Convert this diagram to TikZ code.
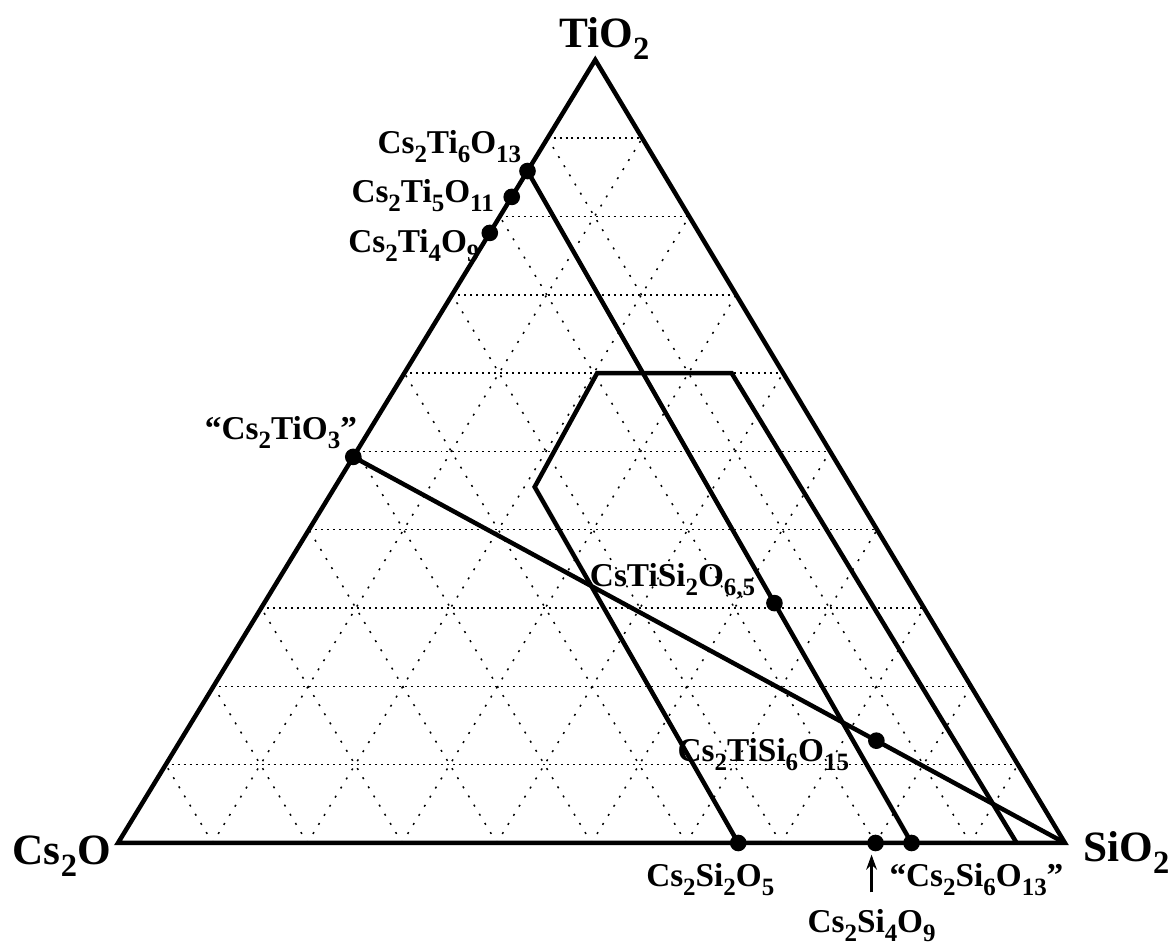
\documentclass[tikz,border=0pt]{standalone}
\usepackage{fontspec}
\setmainfont{Liberation Serif}
\usetikzlibrary{calc, arrows.meta}
\newcommand{\dn}[1]{\raisebox{-0.27em}{\scalebox{0.75}{#1}}}
\tikzset{
	pointer/.tip={Stealth[length=4.5pt, width=3.2pt]},
	phase/.style={line width=1.35pt},
	% grid of 10 % steps
	hgrid/.style={line width=0.45pt, dash pattern=on 0.6pt off 1.2pt},
	dgrid/.style={line width=0.45pt, dash pattern=on 0.6pt off 2.6pt},
	dot/.style={circle, fill=black, inner sep=0pt, minimum size=5pt},
	compound/.style={font=\bfseries\fontsize{10}{12}\selectfont, inner sep=0pt},
	oxide/.style={font=\bfseries\fontsize{13}{15}\selectfont, inner sep=0pt}
}

\begin{document}
\begin{tikzpicture}[thick]
		\useasboundingbox (-1.246,-1.077) rectangle (11.088,8.902);
		% Corners
		\coordinate (A) at (0,0);
		\coordinate (B) at (10,0);
		\coordinate (C) at (5.04,8.27);
		
		% Grid
		\foreach \k in {1,...,9}{
			\draw[hgrid] ($(A)!\k/10!(C)$) -- ($(B)!\k/10!(C)$);
			\draw[dgrid] ($(A)!\k/10!(B)$) -- ($(C)!\k/10!(B)$);
			\draw[dgrid] ($(A)!\k/10!(B)$) -- ($(A)!\k/10!(C)$);
		}
		\draw[phase] (A) -- (B) -- (C) -- cycle;
		
		% Compounds
		\node[dot] (ti6) at ($(A)!0.858!(C)$) {};
		\node[dot] (ti5) at ($(A)!0.825!(C)$) {};
		\node[dot] (ti4) at ($(A)!0.779!(C)$) {};
		\node[dot] (tio3) at ($(A)!0.493!(C)$) {};
		\node[dot] (si2) at ($(A)!0.655!(B)$) {};
		\node[dot] (si4) at ($(A)!0.8!(B)$) {};
		\node[dot] (si6) at ($(A)!0.838!(B)$) {};
		\node[dot] (cstisi) at ($(ti6)!0.643!(si6)$) {};
		\node[dot] (cs2tisi) at ($(tio3)!0.735!(B)$) {};
		
		% Joins and region
		\draw[phase] (tio3.center) -- (B);
		\draw[phase] (ti6.center) -- (si6.center);
		\coordinate (g1) at (4.40,3.76);
		\coordinate (g2) at (5.06,4.962);
		\coordinate (g3) at (6.48,4.962);
		\coordinate (g4) at (9.49,0);
		\draw[phase] (si2.center) -- (g1) -- (g2) -- (g3) -- (g4);
		
		% Labels
		\node[oxide, anchor=base] (tio2) at ([shift={(2.7pt,3.6pt)}]C) {TiO\dn{2}};
		\node[oxide, anchor=base east] (cs2o) at ([shift={(-1.8pt,-6.6pt)}]A) {Cs\dn{2}O};
		\node[oxide, anchor=base west] (sio2) at ([shift={(5.1pt,-5.7pt)}]B) {SiO\dn{2}};
		\node[compound, anchor=base east] (ti6lbl) at ([shift={(-1.5pt,5.4pt)}]ti6.center) {Cs\dn{2}Ti\dn{6}O\dn{13}};
		\node[compound, anchor=base east] (ti5lbl) at ([shift={(-5pt,-1.8pt)}]ti5.center) {Cs\dn{2}Ti\dn{5}O\dn{11}};
		\node[compound, anchor=base east] (ti4lbl) at ([shift={(-2.7pt,-6pt)}]ti4.center) {Cs\dn{2}Ti\dn{4}O\dn{9}};
		\node[compound, anchor=base east] (tio3lbl) at ([shift={(1.5pt,5.1pt)}]tio3.center) {“Cs\dn{2}TiO\dn{3}”};
		\node[compound, anchor=base east] (cstisilbl) at ([shift={(-5.4pt,5.1pt)}]cstisi.center) {CsTiSi\dn{2}O\dn{6,5}};
		\node[compound, anchor=base east] (cs2tisilbl) at ([shift={(-7.8pt,-6.3pt)}]cs2tisi.center) {Cs\dn{2}TiSi\dn{6}O\dn{15}};
		\node[compound, anchor=base] (si2lbl) at ([shift={(-8.4pt,-13.2pt)}]si2.center) {Cs\dn{2}Si\dn{2}O\dn{5}};
		\node[compound, anchor=base] (si6lbl) at ([shift={(19.5pt,-13.2pt)}]si6.center) {“Cs\dn{2}Si\dn{6}O\dn{13}”};
		\node[compound, anchor=base] (si4lbl) at ([shift={(-1.2pt,-27pt)}]si4.center) {Cs\dn{2}Si\dn{4}O\dn{9}};
		\draw[-pointer, line width=0.8pt, shorten <=4.8pt, shorten >=0.6pt] (si4lbl.north) -- (si4lbl.north |- si4.south);
	\end{tikzpicture}
\end{document}
